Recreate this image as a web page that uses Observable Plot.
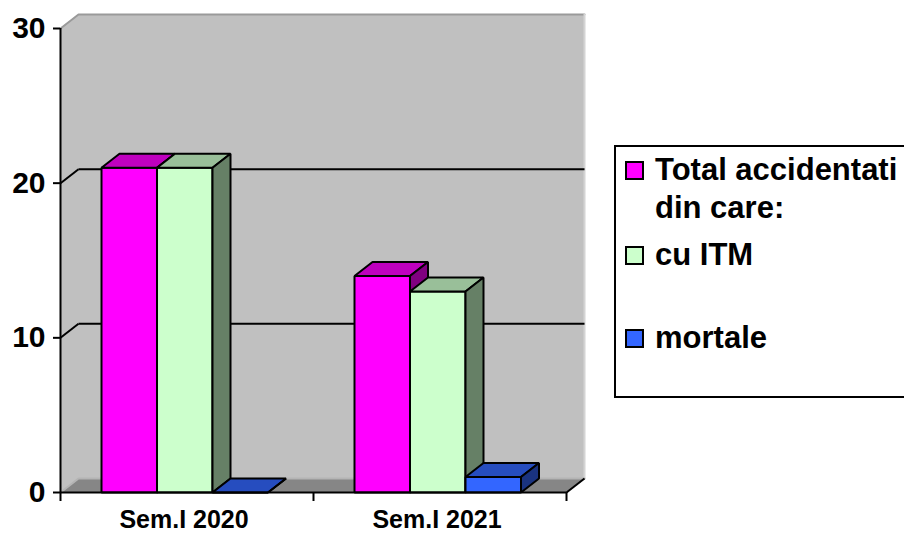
<!DOCTYPE html>
<html><head><meta charset="utf-8">
<script src="https://cdn.jsdelivr.net/npm/d3@7"></script>
<script src="https://cdn.jsdelivr.net/npm/@observablehq/plot@0.6"></script>
<style>
html,body{margin:0;padding:0;background:#fff;overflow:hidden;}
#wrap{position:relative;width:904px;height:533px;overflow:hidden;}
#wrap svg{position:absolute;left:0;top:0;}
</style></head><body><div id="wrap"></div>
<script>
// ---- data ----
const categories = ["Sem.I 2020", "Sem.I 2021"];
const seriesNames = [["Total accidentati", "din care:"], ["cu ITM"], ["mortale"]];
const totalValues = [21, 14];
const cuITMValues = [21, 13];
const mortaleValues = [0, 1];
const yTicks = [0, 10, 20, 30];
const seriesColors = ["#ff00ff", "#ccffcc", "#3366ff"];

const series = [totalValues, cuITMValues, mortaleValues];

// ---- 3D geometry (in scale units) ----
const DX = 18 / 253;      // depth shift along x (category units)
const DY = 14 * 30 / 464; // depth shift along y (value units)
const OFF = 41 / 253;     // gap before first bar in a category
const W = 55.5 / 253;     // bar width

function shade(c, k) {
  const r = d3.rgb(c);
  return d3.rgb(r.r * k, r.g * k, r.b * k).formatHex();
}

const polys = [];
let pid = 0;
function poly(pts, fill) {
  const id = pid++;
  pts.forEach(([x, y]) => polys.push({id, x, y, fill}));
}
categories.forEach((cat, i) => {
  series.forEach((vals, j) => {
    const v = vals[i];
    const x0 = i + OFF + j * W, x1 = x0 + W;
    const col = seriesColors[j];
    poly([[x0, 0], [x1, 0], [x1, v], [x0, v]], col);
    poly([[x0, v], [x1, v], [x1 + DX, v + DY], [x0 + DX, v + DY]], shade(col, 0.75));
    poly([[x1, 0], [x1 + DX, DY], [x1 + DX, v + DY], [x1, v]], shade(col, 0.5));
  });
});

const xMax = categories.length;
const yMax = yTicks[yTicks.length - 1];
const wall = [[0, 0], [0, yMax], [DX, yMax + DY], [xMax + DX, yMax + DY], [xMax + DX, DY], [xMax, 0]].map(([x, y]) => ({x, y}));
const floor = [[0, 0], [DX, DY], [xMax + DX, DY], [xMax, 0]].map(([x, y]) => ({x, y}));
const gridVals = yTicks.filter(t => t > 0 && t < yMax);

const plot = Plot.plot({
  width: 904, height: 533,
  marginLeft: 60, marginRight: 338, marginTop: 28, marginBottom: 41,
  style: {fontFamily: "'Liberation Sans', Arial, sans-serif", color: "#000", background: "transparent", overflow: "visible"},
  x: {type: "linear", domain: [0, xMax]},
  y: {domain: [0, yMax]},
  marks: [
    Plot.line(wall, {x: "x", y: "y", fill: "#c0c0c0", stroke: "none", curve: "linear-closed"}),
    Plot.line(floor, {x: "x", y: "y", fill: "#868686", stroke: "none", curve: "linear-closed"}),
    Plot.line([{x: 0, y: yMax}, {x: DX, y: yMax + DY}, {x: xMax + DX, y: yMax + DY}], {x: "x", y: "y", stroke: "#9a9a9a", strokeWidth: 2}),
    Plot.line([{x: xMax + DX, y: yMax + DY}, {x: xMax + DX, y: DY}], {x: "x", y: "y", stroke: "#d4d4d4", strokeWidth: 2}),
    Plot.line([{x: 0, y: 0}, {x: DX, y: DY}, {x: xMax + DX, y: DY}], {x: "x", y: "y", stroke: "#b4b4b4", strokeWidth: 2}),
    Plot.link([0], {x1: xMax, y1: 0, x2: xMax + DX, y2: DY, stroke: "#000", strokeWidth: 2}),
    Plot.link(gridVals, {x1: 0, y1: d => d, x2: DX, y2: d => d + DY, stroke: "#000", strokeWidth: 2}),
    Plot.link(gridVals, {x1: DX, y1: d => d + DY, x2: xMax + DX, y2: d => d + DY, stroke: "#000", strokeWidth: 2}),
    Plot.line(polys, {x: "x", y: "y", z: "id", fill: "fill", stroke: "#000", strokeWidth: 2, curve: "linear-closed", strokeLinejoin: "miter"}),
    Plot.ruleX([0], {y1: 0, y2: yMax, stroke: "#000", strokeWidth: 2}),
    Plot.ruleY([0], {x1: 0, x2: xMax, stroke: "#000", strokeWidth: 2}),
    Plot.axisY({ticks: yTicks, tickSize: 7, tickPadding: 8, fontSize: 30, fontWeight: "bold", strokeWidth: 2, label: null}),
    Plot.axisX({ticks: d3.range(0, xMax + 1), tickSize: 9, tickFormat: () => "", strokeWidth: 2, label: null}),
    Plot.axisX({ticks: categories.map((c, i) => i + 0.5), tickSize: 0, tickPadding: 18, dx: -3, tickFormat: d => categories[Math.floor(d)], fontSize: 25, fontWeight: "bold", label: null})
  ]
});
document.getElementById("wrap").appendChild(plot);

// ---- legend ----
const lg = d3.select("#wrap").append("svg").attr("width", 904).attr("height", 533)
  .style("font-family", "'Liberation Sans', Arial, sans-serif");
lg.append("rect").attr("x", 615).attr("y", 146).attr("width", 330).attr("height", 251)
  .attr("fill", "none").attr("stroke", "#000").attr("stroke-width", 2);
const baselines = [180, 265, 348];
seriesNames.forEach((lines, j) => {
  const b = baselines[j];
  lg.append("rect").attr("x", 626).attr("y", b - 18).attr("width", 17).attr("height", 17)
    .attr("fill", seriesColors[j]).attr("stroke", "#000").attr("stroke-width", 2);
  lines.forEach((t, k) => {
    lg.append("text").attr("x", 655).attr("y", b + k * 38).text(t)
      .attr("font-size", 31).attr("font-weight", "bold").attr("fill", "#000");
  });
});
</script></body></html>
